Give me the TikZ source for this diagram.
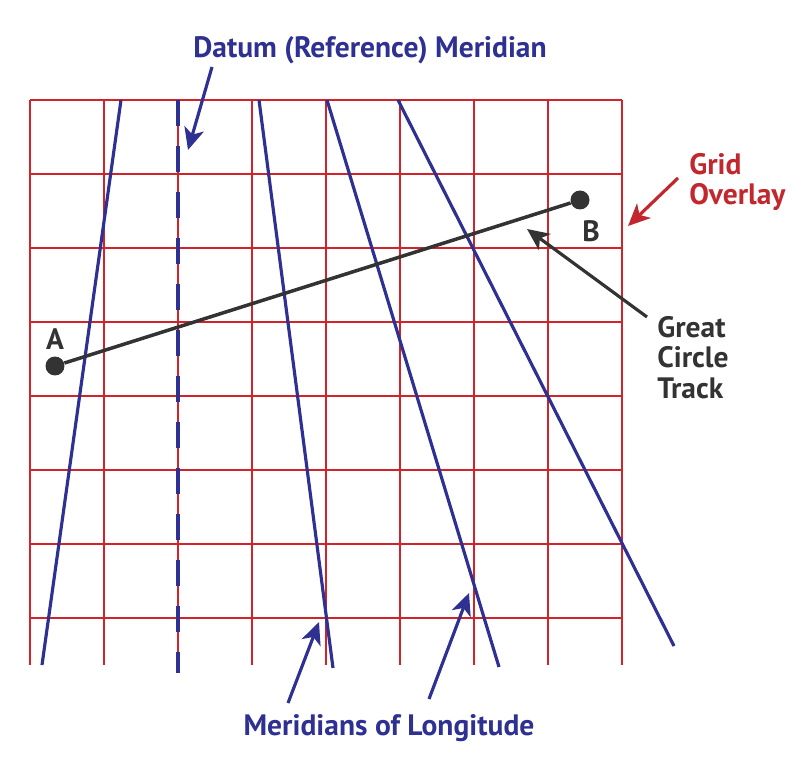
\documentclass[tikz,border=0pt]{standalone}
\usepackage{fontspec}
\setmainfont{PT Sans}
\usetikzlibrary{arrows.meta, positioning}
\definecolor{merblue}{HTML}{2E3192}
\definecolor{gridred}{HTML}{D2232A}
\definecolor{labelred}{HTML}{C1272D}
\definecolor{trackgray}{HTML}{333333}
\tikzstyle{gridline} = [gridred, line width=1.1pt]
\tikzstyle{meridian} = [merblue, line width=1.8pt]
\tikzstyle{datumline} = [merblue, line width=1.9pt, dash pattern=on 0.52cm off 0.4cm]
\tikzstyle{track} = [trackgray, line width=2pt]
\tikzstyle{dot} = [circle, fill=trackgray, inner sep=0pt, minimum size=0.38cm]
\tikzstyle{caption} = [font=\bfseries\fontsize{16.8}{17.3}\selectfont, inner sep=0pt, align=left]
\tikzstyle{pointer} = [line width=1.8pt, -{Stealth[length=0.44cm, width=0.4cm, inset=0.12cm]}]

\begin{document}
\begin{tikzpicture}[x=0.02cm, y=-0.02cm]
          \useasboundingbox (0,0) rectangle (800,766);
          % grid overlay
          \foreach \i in {0,...,8}
            \draw [gridline] (30+74*\i,100) -- (30+74*\i,665);
          \foreach \j in {0,...,7}
            \draw [gridline] (30,100+74*\j) -- (622,100+74*\j);
          % meridians
          \draw [meridian] (121,100) -- (42,665);
          \draw [meridian] (259,100) -- (333,668);
          \draw [meridian] (327,100) -- (499,667);
          \draw [meridian] (398,100) -- (674,646);
          \draw [datumline] (178,100) -- (178,673);
          % great circle track
          \node (ptA) [dot] at (55,366) {};
          \node (ptB) [dot] at (580,200) {};
          \draw [track] (ptA) -- (ptB);
          \node (lblA) [caption, text=trackgray, above=0.13cm of ptA] {A};
          \node (lblB) [caption, text=trackgray, below=0.2cm of ptB, xshift=0.22cm] {B};
          % labels
          \node (datum) [caption, text=merblue, anchor=base] at (370,58) {Datum (Reference) Meridian};
          \node (gridov) [caption, text=labelred, anchor=base west] at (689,205) {Grid\\Overlay};
          \node (gctrack) [caption, text=trackgray, anchor=base west] at (657,398) {Great\\Circle\\Track};
          \node (merlong) [caption, text=merblue, anchor=base] at (389,735) {Meridians of Longitude};
          % pointers
          \coordinate (datumtail) at (212,67);
          \coordinate (datumtip) at (188,150);
          \coordinate (gridtail) at (678,178);
          \coordinate (gridtip) at (628,226);
          \coordinate (tracktail) at (647,317);
          \coordinate (tracktip) at (527,229);
          \coordinate (longtailA) at (288,703);
          \coordinate (longtipA) at (319,622);
          \coordinate (longtailB) at (429,699);
          \coordinate (longtipB) at (469,593);
          \draw [pointer, merblue] (datumtail) -- (datumtip);
          \draw [pointer, labelred] (gridtail) -- (gridtip);
          \draw [pointer, trackgray] (tracktail) -- (tracktip);
          \draw [pointer, merblue] (longtailA) -- (longtipA);
          \draw [pointer, merblue] (longtailB) -- (longtipB);
        \end{tikzpicture}
\end{document}
